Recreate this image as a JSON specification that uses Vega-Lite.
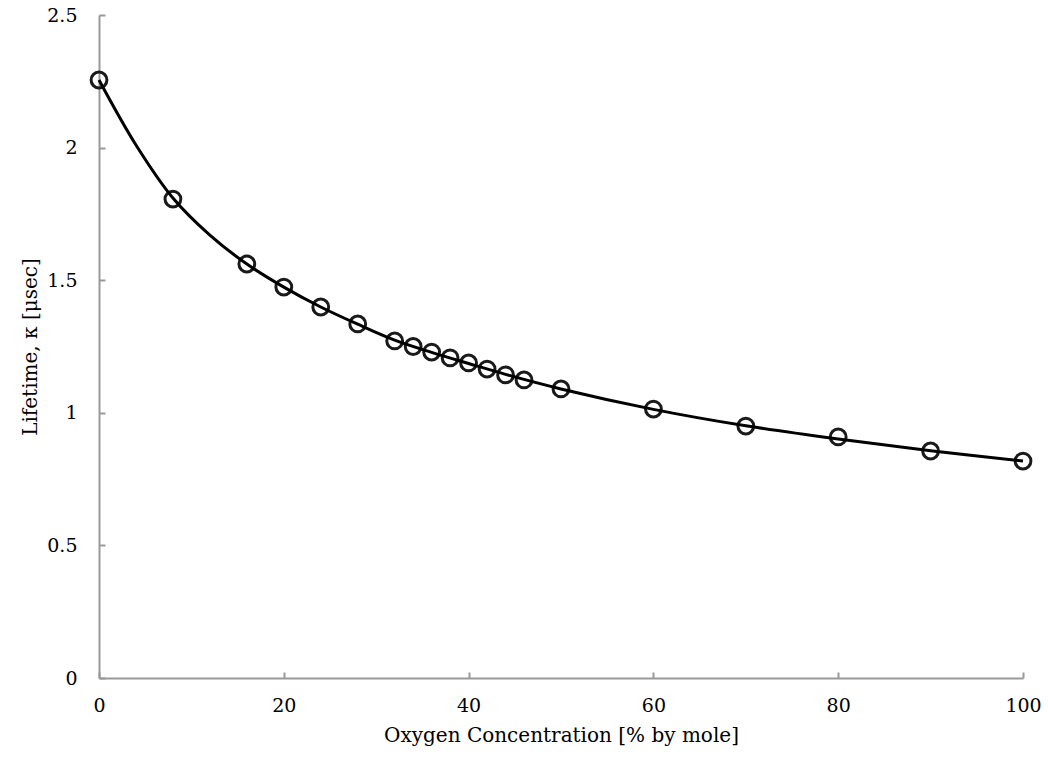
{
  "$schema": "https://vega.github.io/schema/vega-lite/v6.json",
  "width": 924,
  "height": 663,
  "autosize": "none",
  "padding": {"left": 99, "top": 15, "right": 25, "bottom": 84},
  "background": "white",
  "config": {
    "view": {"stroke": null},
    "font": "DejaVu Serif"
  },
  "datasets": {
    "points": [
      {"x": 0, "y": 2.255},
      {"x": 8, "y": 1.806},
      {"x": 16, "y": 1.561},
      {"x": 20, "y": 1.474},
      {"x": 24, "y": 1.399},
      {"x": 28, "y": 1.335},
      {"x": 32, "y": 1.271},
      {"x": 34, "y": 1.25},
      {"x": 36, "y": 1.229},
      {"x": 38, "y": 1.207},
      {"x": 40, "y": 1.188},
      {"x": 42, "y": 1.165},
      {"x": 44, "y": 1.143},
      {"x": 46, "y": 1.124},
      {"x": 50, "y": 1.09},
      {"x": 60, "y": 1.014},
      {"x": 70, "y": 0.95},
      {"x": 80, "y": 0.909},
      {"x": 90, "y": 0.856},
      {"x": 100, "y": 0.818}
    ],
    "fit": [
      {"x": 0, "y": 2.255},
      {"x": 4, "y": 2.01},
      {"x": 8, "y": 1.81},
      {"x": 12, "y": 1.67},
      {"x": 16, "y": 1.561},
      {"x": 20, "y": 1.474},
      {"x": 24, "y": 1.399},
      {"x": 28, "y": 1.334},
      {"x": 32, "y": 1.274},
      {"x": 36, "y": 1.228},
      {"x": 40, "y": 1.186},
      {"x": 44, "y": 1.145},
      {"x": 50, "y": 1.09},
      {"x": 60, "y": 1.013},
      {"x": 70, "y": 0.951},
      {"x": 80, "y": 0.901},
      {"x": 90, "y": 0.857},
      {"x": 100, "y": 0.818}
    ]
  },
  "resolve": {"axis": {"x": "independent", "y": "independent"}},
  "layer": [
    {
      "data": {"name": "points"},
      "mark": {"type": "point", "shape": "circle", "filled": false, "size": 250, "stroke": "#1a1a1a", "strokeWidth": 3, "opacity": 1},
      "encoding": {
        "x": {
          "field": "x", "type": "quantitative",
          "scale": {"domain": [0, 100], "nice": false},
          "axis": {
            "orient": "bottom",
            "title": "Oxygen Concentration [% by mole]",
            "values": [0, 20, 40, 60, 80, 100],
            "grid": false, "ticks": false, "labelFlush": false,
            "domainColor": "#999999", "domainWidth": 2,
            "labelFont": "DejaVu Serif", "labelFontSize": 19, "labelColor": "black",
            "labelPadding": 18,
            "titleFont": "DejaVu Serif", "titleFontSize": 20, "titleFontWeight": "normal", "titleColor": "black",
            "titlePadding": 10
          }
        },
        "y": {
          "field": "y", "type": "quantitative",
          "scale": {"domain": [0, 2.5], "nice": false},
          "axis": {
            "orient": "left",
            "title": "Lifetime, κ [μsec]",
            "values": [0, 0.5, 1, 1.5, 2, 2.5],
            "format": "~g",
            "grid": false, "ticks": false, "labelFlush": false,
            "domainColor": "#999999", "domainWidth": 2,
            "labelFont": "DejaVu Serif", "labelFontSize": 19, "labelColor": "black",
            "labelPadding": 22,
            "titleFont": "DejaVu Serif", "titleFontSize": 20, "titleFontWeight": "normal", "titleColor": "black",
            "titlePadding": 6
          }
        }
      }
    },
    {
      "data": {"name": "fit"},
      "mark": {"type": "line", "color": "black", "strokeWidth": 3, "interpolate": "catmull-rom"},
      "encoding": {
        "x": {
          "field": "x", "type": "quantitative",
          "scale": {"domain": [0, 100], "nice": false},
          "axis": {
            "orient": "bottom", "offset": -6,
            "title": null, "labels": false, "domain": false, "grid": false,
            "values": [0, 20, 40, 60, 80, 100],
            "tickColor": "#999999", "tickWidth": 2, "tickSize": 6
          }
        },
        "y": {
          "field": "y", "type": "quantitative",
          "scale": {"domain": [0, 2.5], "nice": false},
          "axis": {
            "orient": "left", "offset": -6,
            "title": null, "labels": false, "domain": false, "grid": false,
            "values": [0, 0.5, 1, 1.5, 2, 2.5],
            "tickColor": "#999999", "tickWidth": 2, "tickSize": 6
          }
        }
      }
    }
  ]
}
